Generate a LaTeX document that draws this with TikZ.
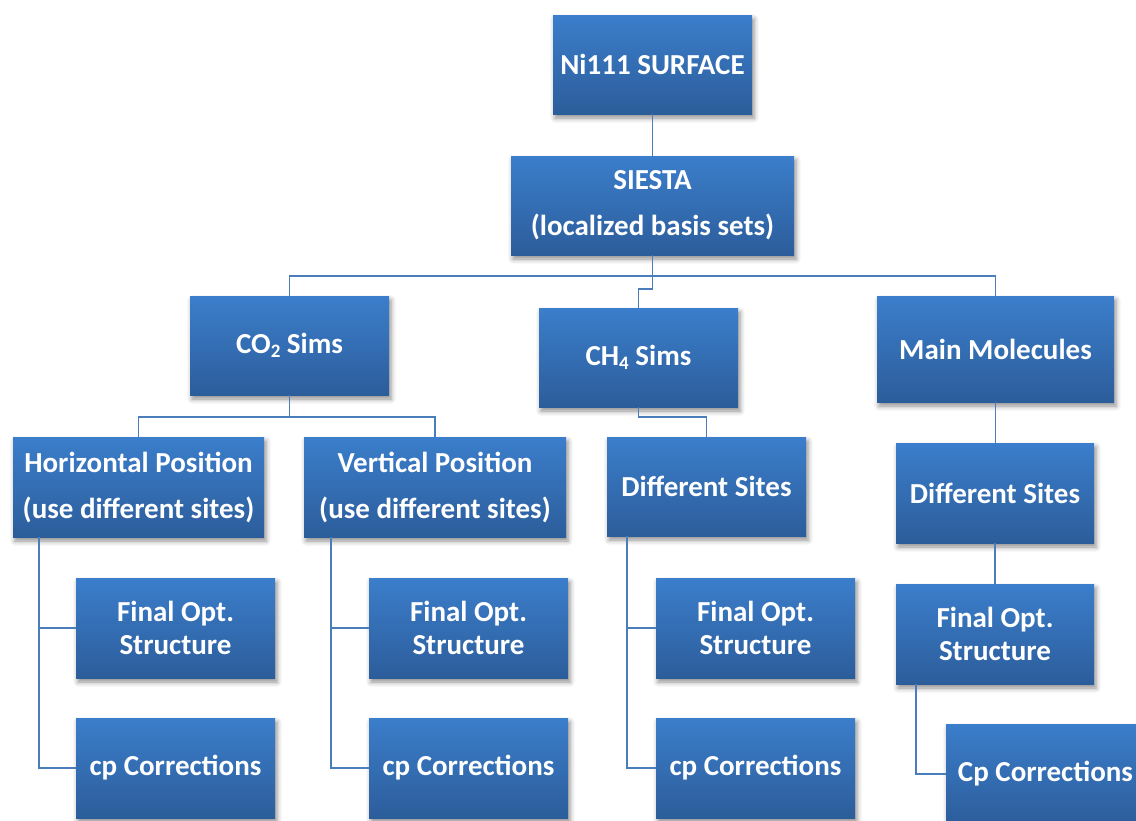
\documentclass[tikz,border=0pt]{standalone}
\usepackage{fontspec}
\setmainfont{Carlito}
\usetikzlibrary{shadows.blur}
\definecolor{boxtop}{RGB}{59,126,203}
\definecolor{boxbot}{RGB}{44,93,155}
\definecolor{linkc}{RGB}{74,126,187}
\tikzset{
  box/.style={rectangle, inner sep=0pt, top color=boxtop, bottom color=boxbot,
    text=white, font=\fontsize{29}{46}\selectfont\bfseries, align=center,
    minimum width=199pt, minimum height=99pt,
    blur shadow={shadow xshift=2pt, shadow yshift=-4pt, shadow blur radius=5pt, shadow opacity=45}},
  tight/.style={font=\fontsize{29}{33}\selectfont\bfseries},
  link/.style={draw=linkc, line width=1.6pt}
}
\newcommand{\subtwo}[1]{\raisebox{-0.3ex}{\fontsize{19}{19}\selectfont #1}}
\begin{document}
\begin{tikzpicture}[x=1pt,y=-1pt]
\useasboundingbox (0,0) rectangle (1136,820);
\clip (0,0) rectangle (1136,820);
% boxes
\node[box] (ni) at (652.5,64.5) {Ni111 SURFACE};
\node[box, minimum width=283pt] (siesta) at (652.5,205.5) {SIESTA\\(localized basis sets)};
\node[box] (co2) at (289.5,345.5) {CO\subtwo{2} Sims};
\node[box] (ch4) at (638.5,357.5) {CH\subtwo{4} Sims};
\node[box, minimum width=237pt, minimum height=106pt] (main) at (995.5,349) {Main Molecules};
\node[box, minimum width=251pt, minimum height=100pt] (hor) at (138.5,487) {Horizontal Position\\(use different sites)};
\node[box, minimum width=262pt, minimum height=100pt] (ver) at (435,487) {Vertical Position\\(use different sites)};
\node[box] (ds3) at (706.5,486.5) {Different Sites};
\node[box, minimum width=198pt, minimum height=100pt] (ds4) at (995,493) {Different Sites};
\node[box, tight, minimum height=100pt] (fo1) at (175.5,628) {Final Opt.\\Structure};
\node[box, tight, minimum height=100pt] (fo2) at (468.5,628) {Final Opt.\\Structure};
\node[box, tight, minimum height=100pt] (fo3) at (755.5,628) {Final Opt.\\Structure};
\node[box, tight, minimum width=198pt, minimum height=100pt] (fo4) at (995,634) {Final Opt.\\Structure};
\node[box, minimum height=100pt] (cp1) at (175.5,768) {cp Corrections};
\node[box, minimum height=100pt] (cp2) at (468.5,768) {cp Corrections};
\node[box, minimum height=100pt] (cp3) at (755.5,768) {cp Corrections};
\node[box, minimum height=100pt] (cp4) at (1045.5,774) {Cp Corrections};
% junction coordinates
\coordinate (bus) at (652.5,276);
\coordinate (j1) at (652.5,289);
\coordinate (j2) at (289.5,417);
\coordinate (j3) at (638.5,417);
\coordinate (x1) at (39,0);
\coordinate (x2) at (331,0);
\coordinate (x3) at (627,0);
\coordinate (x4) at (916,0);
% connectors
\draw[link] (ni.south) -- (siesta.north);
\draw[link] (co2.north) |- (bus) -| (main.north);
\draw[link] (siesta.south) -- (j1) -| (ch4.north);
\draw[link] (co2.south) -- (j2);
\draw[link] (hor.north) |- (j2) -| (ver.north);
\draw[link] (ch4.south) -- (j3) -| (ds3.north);
\draw[link] (main.south) -- (main.south |- ds4.north);
\draw[link] (ds4.south) -- (fo4.north);
\draw[link] (hor.south -| x1) |- (cp1.west);
\draw[link] (fo1.west -| x1) -- (fo1.west);
\draw[link] (ver.south -| x2) |- (cp2.west);
\draw[link] (fo2.west -| x2) -- (fo2.west);
\draw[link] (ds3.south -| x3) |- (cp3.west);
\draw[link] (fo3.west -| x3) -- (fo3.west);
\draw[link] (fo4.south -| x4) |- (cp4.west);
\end{tikzpicture}
\end{document}
